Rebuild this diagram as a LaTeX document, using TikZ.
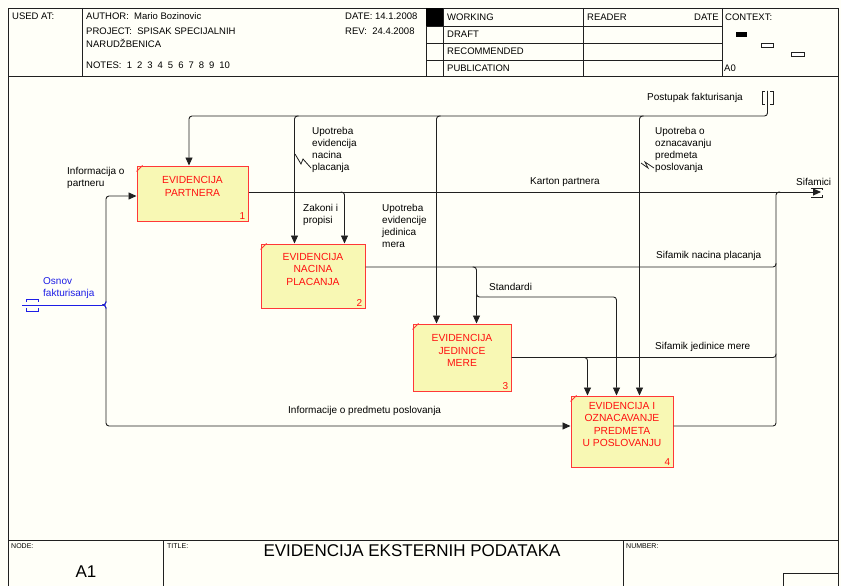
\documentclass[tikz,border=0pt]{standalone}
\usepackage{fontspec}
\setmainfont{Liberation Sans}
\usetikzlibrary{arrows.meta,calc}
\definecolor{bg}{HTML}{FFFFF8}
\definecolor{boxfill}{HTML}{F8F8B4}
\definecolor{boxred}{HTML}{FF3838}
\definecolor{txtred}{HTML}{FF1010}
\definecolor{linec}{HTML}{202020}
\definecolor{osnblue}{HTML}{1E1EE6}
\tikzset{
  frame/.style={draw=linec, line width=0.8pt},
  hdr/.style={font=\fontsize{9.5}{11}\selectfont, anchor=west, inner sep=0},
  ftr/.style={font=\fontsize{7}{8}\selectfont, anchor=north west, inner sep=0},
  lbl/.style={font=\fontsize{10}{12}\selectfont, inner sep=0, align=left},
  proc/.style={draw=boxred, fill=boxfill, line width=1pt, inner sep=0},
  proctext/.style={text=txtred, font=\fontsize{10.3}{12.5}\selectfont, align=center, inner sep=0},
  procnum/.style={text=txtred, font=\fontsize{10}{12}\selectfont, inner sep=0, anchor=south east},
  arr/.style={draw=linec, line width=0.9pt, rounded corners=3pt, -{Triangle[length=8pt,width=7pt]}},
  pipe/.style={draw=linec, line width=0.9pt, rounded corners=3pt},
  osn/.style={draw=osnblue, line width=0.9pt},
  squig/.style={draw=linec, line width=0.8pt},
}
\begin{document}
\begin{tikzpicture}[x=1pt,y=-1pt]
\useasboundingbox (0,0) rectangle (841,586);
\fill[bg] (0,0) rectangle (841,586);

% ---------- frame ----------
\draw[frame] (8,590) -- (8,8) -- (838,8) -- (838,590);
\draw[frame] (8,76) -- (838,76);
\draw[frame] (8,540) -- (838,540);
\draw[frame] (82,8) -- (82,76);
\draw[frame] (426,8) -- (426,76);
\draw[frame] (443,8) -- (443,76);
\draw[frame] (583,8) -- (583,76);
\draw[frame] (722,8) -- (722,76);
\foreach \yy in {26,43,60} \draw[frame] (426,\yy) -- (722,\yy);
\fill[black] (426,8) rectangle (443,26);
\draw[frame] (163,540) -- (163,590);
\draw[frame] (623,540) -- (623,590);
\draw[frame] (783,573) rectangle (838,590);

% context miniature
\fill[black] (736,32) rectangle (747,37);
\draw[linec, line width=0.7pt, fill=white] (761,43) rectangle (773,47);
\draw[linec, line width=0.7pt, fill=white] (791,52) rectangle (804,56);

% ---------- header text ----------
\node[hdr] (hUsed) at (12,16) {USED AT:};
\node[hdr] (hAuth) at (86,16) {AUTHOR:\ \ Mario Bozinovic};
\node[hdr] (hProj) at (86,31) {PROJECT:\ \ SPISAK SPECIJALNIH};
\node[hdr] (hNar) at (86,43) {NARUDŽBENICA};
\node[hdr] (hNotes) at (86,65) {NOTES:\ \ 1\hspace{5pt}2\hspace{5pt}3\hspace{5pt}4\hspace{5pt}5\hspace{5pt}6\hspace{5pt}7\hspace{5pt}8\hspace{5pt}9\hspace{5pt}10};
\node[hdr] (hDate) at (345,16) {DATE: 14.1.2008};
\node[hdr] (hRev) at (345,31) {REV:\ \ 24.4.2008};
\node[hdr] (hW) at (447,17) {WORKING};
\node[hdr] (hD) at (447,34) {DRAFT};
\node[hdr] (hR) at (447,51) {RECOMMENDED};
\node[hdr] (hP) at (447,68) {PUBLICATION};
\node[hdr] (hRd) at (587,17) {READER};
\node[hdr, anchor=east] (hDt) at (719,17) {DATE};
\node[hdr] (hC) at (725,17) {CONTEXT:};
\node[hdr] (hA0) at (724,68) {A0};

% ---------- footer ----------
\node[ftr] (fN) at (11,543) {NODE:};
\node[ftr] (fT) at (167,543) {TITLE:};
\node[ftr] (fNum) at (626,543) {NUMBER:};
\node[font=\fontsize{17}{20}\selectfont, inner sep=0] (fTitle) at (412,551) {EVIDENCIJA EKSTERNIH PODATAKA};
\node[font=\fontsize{17}{20}\selectfont, inner sep=0] (fA1) at (86,572) {A1};

% ---------- activity boxes ----------
\node[proc, minimum width=111pt, minimum height=55pt] (b1) at (192.5,193.5) {};
\node[proc, minimum width=104pt, minimum height=64pt] (b2) at (313,276) {};
\node[proc, minimum width=98pt, minimum height=67pt] (b3) at (462,357.5) {};
\node[proc, minimum width=102pt, minimum height=71pt] (b4) at (622,431.5) {};
\foreach \b in {b1,b2,b3,b4}
  \draw[boxred, line width=0.8pt] ([yshift=-6]\b.north west) -- ([xshift=6]\b.north west);
\node[proctext] (t1) at ([yshift=7]b1.center) {EVIDENCIJA\\PARTNERA};
\node[proctext] (t2) at ([yshift=7]b2.center) {EVIDENCIJA\\NACINA\\PLACANJA};
\node[proctext] (t3) at ([yshift=7]b3.center) {EVIDENCIJA\\JEDINICE\\MERE};
\node[proctext] (t4) at ([yshift=7]b4.center) {EVIDENCIJA I\\OZNACAVANJE\\PREDMETA\\U POSLOVANJU};
\node[procnum] (n1) at ([xshift=-3,yshift=2]b1.south east) {1};
\node[procnum] (n2) at ([xshift=-3,yshift=2]b2.south east) {2};
\node[procnum] (n3) at ([xshift=-3,yshift=2]b3.south east) {3};
\node[procnum] (n4) at ([xshift=-3,yshift=2]b4.south east) {4};

% ---------- coordinates ----------
\coordinate (tunP) at (767.5,91);
\coordinate (ctlY) at (0,116);
\coordinate (sifT) at (821,192);
\coordinate (vR) at (776,0);
\coordinate (vL) at (106,0);
\coordinate (jIn) at (102,305);
\coordinate (osnT) at (22,305);
\coordinate (stdY) at (0,297);
\coordinate (b1c) at ([xshift=-3.5]b1.north);
\coordinate (b2c1) at ([xshift=34]b2.north west);
\coordinate (b2c2) at ([xshift=84]b2.north west);
\coordinate (b3c1) at ([xshift=24]b3.north west);
\coordinate (b3c2) at ([xshift=64]b3.north west);
\coordinate (b4c1) at ([xshift=17]b4.north west);
\coordinate (b4c2) at ([xshift=46]b4.north west);
\coordinate (b4c3) at ([xshift=69]b4.north west);
\coordinate (o1) at ([yshift=1.5]b1.east);
\coordinate (o2) at ([yshift=9]b2.east);
\coordinate (o3) at (b3.east);
\coordinate (o4) at ([yshift=5.5]b4.east);
\coordinate (i1) at ([yshift=-2.5]b1.west);
\coordinate (i4) at ([yshift=5.5]b4.west);

% ---------- Postupak fakturisanja (control) ----------
\draw[arr] (tunP) |- (ctlY -| b1c) -- (b1c);
\draw[arr] ([xshift=4]ctlY -| b2c1) -- (ctlY -| b2c1) -- (b2c1);
\draw[arr] ([xshift=4]ctlY -| b3c1) -- (ctlY -| b3c1) -- (b3c1);
\draw[arr] ([xshift=4]ctlY -| b4c3) -- (ctlY -| b4c3) -- (b4c3);
\draw[pipe, rounded corners=0] (765,91) -- (762,91) -- (762,104) -- (765,104);
\draw[pipe, rounded corners=0] (770,91) -- (773,91) -- (773,104) -- (770,104);

% ---------- Karton partnera / Sifamici ----------
\draw[arr] (o1) -- (o1 -| sifT);
\draw[arr] ([xshift=-4]o1 -| b2c2) -- (o1 -| b2c2) -- (b2c2);
\draw[pipe, rounded corners=0] (811,188) -- (822,188) -- (822,190);
\draw[pipe, rounded corners=0] (811,197) -- (822,197) -- (822,195);

% collector to Sifamici
\draw[pipe] (o4) -- (o4 -| vR) -- (o1 -| vR) -- ([xshift=4]o1 -| vR);
\draw[pipe] (o2) -- (o2 -| vR) -- ([yshift=4]o2 -| vR);
\draw[pipe] (o3) -- (o3 -| vR) -- ([yshift=4]o3 -| vR);

% Sifamik nacina placanja -> box 3, Standardi -> box 4
\draw[arr] ([xshift=-4]o2 -| b3c2) -- (o2 -| b3c2) -- (b3c2);
\draw[arr] ([yshift=4]stdY -| b3c2) -- (stdY -| b3c2) -| (b4c2);
% Sifamik jedinice mere -> box 4
\draw[arr] ([xshift=-4]o3 -| b4c1) -- (o3 -| b4c1) -- (b4c1);

% ---------- Osnov fakturisanja (input) ----------
\draw[arr] (jIn) -- (jIn -| vL) |- (i1);
\draw[arr] (jIn) -- (jIn -| vL) |- (i4);
\draw[osn] (osnT) -- (jIn);
\draw[osn, rounded corners=3pt] (jIn) -- (jIn -| vL) -- ([yshift=4]jIn -| vL);
\draw[osn, rounded corners=3pt] (jIn) -- (jIn -| vL) -- ([yshift=-4]jIn -| vL);
\draw[osn] (26,302) -- (26,299) -- (38,299) -- (38,302);
\draw[osn] (26,308) -- (26,311) -- (38,311) -- (38,308);

% ---------- squiggles ----------
\draw[squig] (295,154) -- (301,164) -- (303,159) -- (311,168);
\draw[squig] (641,163) -- (648,168) -- (645,162) -- (654,168);

% ---------- labels ----------
\node[lbl, anchor=north west] (l1) at (312,127) {Upotreba\\evidencija\\nacina\\placanja};
\node[lbl, anchor=north west] (l2) at (655,127) {Upotreba o\\oznacavanju\\predmeta\\poslovanja};
\node[lbl, anchor=north west] (l3) at (303,204) {Zakoni i\\propisi};
\node[lbl, anchor=north west] (l4) at (382,204) {Upotreba\\evidencije\\jedinica\\mera};
\node[lbl, anchor=north west] (l5) at (67,167) {Informacija o\\partneru};
\node[lbl, anchor=west] (l6) at (530,182) {Karton partnera};
\node[lbl, anchor=west] (l7) at (796,182) {Sifamici};
\node[lbl, anchor=west] (l8) at (647,98) {Postupak fakturisanja};
\node[lbl, anchor=west] (l9) at (656,256) {Sifamik nacina placanja};
\node[lbl, anchor=west] (l10) at (489,287) {Standardi};
\node[lbl, anchor=west] (l11) at (655,347) {Sifamik jedinice mere};
\node[lbl, anchor=west] (l12) at (288,411) {Informacije o predmetu poslovanja};
\node[lbl, anchor=north west, text=osnblue] (l13) at (43,277) {Osnov\\fakturisanja};
\end{tikzpicture}
\end{document}
